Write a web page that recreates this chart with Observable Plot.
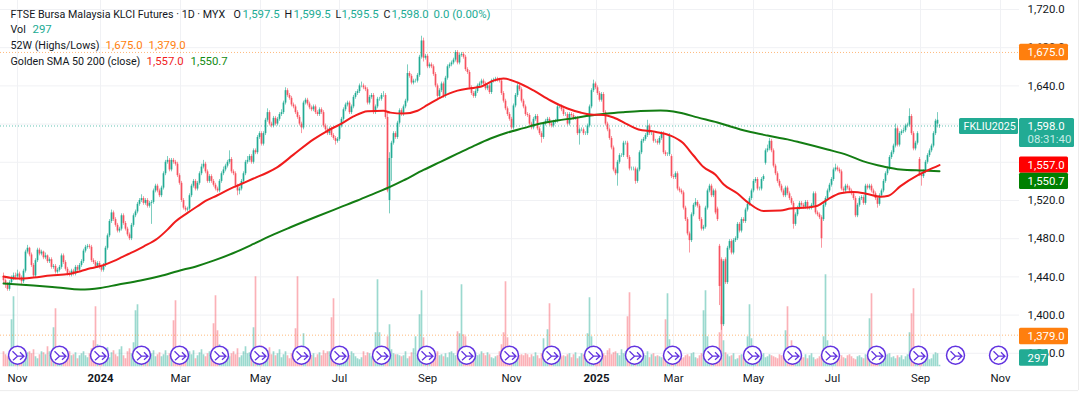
<!DOCTYPE html>
<html><head><meta charset="utf-8">
<script src="https://cdn.jsdelivr.net/npm/d3@7"></script>
<script src="https://cdn.jsdelivr.net/npm/@observablehq/plot@0.6"></script>
<style>html,body{margin:0;padding:0;background:#fff}svg{display:block}</style>
</head><body><div id="chart"></div>
<script>
const closes=[
1436,1432,1427,1434,1438,1441,1440,1443,1439,1435,
1446,1466,1470,1463,1452,1441,1457,1468,1464,1466,
1460,1462,1456,1458,1450,1451,1445,1447,1450,1462,
1455,1448,1443,1442,1446,1443,1450,1447,1452,1456,
1467,1471,1472,1471,1457,1455,1451,1454,1450,1447,
1452,1470,1483,1498,1507,1500,1494,1488,1490,1504,
1496,1490,1484,1480,1494,1504,1508,1516,1520,1522,
1517,1520,1514,1517,1518,1530,1535,1530,1525,1533,
1548,1560,1562,1552,1562,1560,1558,1546,1538,1520,
1512,1510,1511,1525,1535,1540,1532,1538,1548,1555,
1558,1550,1540,1545,1540,1536,1532,1530,1540,1548,
1552,1556,1560,1563,1550,1548,1535,1530,1532,1540,
1548,1560,1562,1566,1560,1572,1570,1586,1590,1579,
1590,1604,1612,1600,1598,1606,1600,1605,1610,1612,
1622,1635,1630,1627,1620,1618,1612,1607,1600,1596,
1622,1625,1621,1617,1615,1618,1612,1610,1615,1612,
1598,1594,1590,1595,1588,1585,1582,1584,1598,1605,
1615,1620,1622,1612,1618,1628,1632,1634,1640,1640,
1638,1636,1622,1628,1630,1612,1618,1626,1626,1630,
1630,1607,1530,1564,1580,1590,1586,1601,1614,1610,
1618,1624,1653,1650,1643,1645,1645,1651,1670,1687,
1669,1671,1660,1662,1660,1652,1640,1629,1635,1642,
1629,1648,1660,1662,1664,1667,1675,1664,1672,1673,
1670,1657,1654,1638,1632,1629,1634,1640,1642,1645,
1642,1637,1640,1633,1645,1646,1647,1646,1645,1632,
1624,1616,1610,1605,1596,1619,1630,1640,1636,1624,
1618,1610,1609,1600,1596,1605,1608,1595,1590,1586,
1600,1603,1605,1600,1598,1602,1603,1618,1618,1615,
1610,1610,1600,1610,1609,1606,1606,1590,1594,1594,
1590,1590,1598,1618,1635,1642,1638,1632,1625,1631,
1612,1600,1594,1585,1575,1552,1548,1560,1567,1567,
1580,1580,1565,1553,1553,1553,1540,1552,1570,1582,
1584,1588,1598,1590,1590,1582,1582,1580,1585,1590,
1570,1568,1568,1588,1545,1544,1548,1532,1530,1528,
1512,1500,1485,1478,1505,1515,1518,1514,1500,1490,
1492,1512,1530,1535,1525,1530,1507,1500,1430,1390,
1456,1434,1470,1477,1465,1478,1480,1495,1488,1500,
1498,1510,1516,1522,1530,1540,1542,1532,1532,1542,
1545,1572,1574,1582,1572,1556,1548,1540,1535,1530,
1525,1533,1527,1522,1517,1495,1505,1512,1517,1515,
1513,1518,1512,1512,1515,1527,1507,1505,1502,1480,
1515,1522,1530,1536,1542,1552,1554,1552,1550,1532,
1530,1535,1533,1530,1527,1522,1504,1515,1522,1523,
1517,1535,1533,1535,1530,1527,1522,1516,1525,1530,
1540,1548,1553,1565,1570,1577,1595,1578,1590,1592,
1593,1598,1599,1608,1590,1574,1580,1590,1547,1545,
1550,1560,1567,1572,1577,1590,1603,1604,1598];
const opens=[
1440,1436,1432,1427,1434,1438,1441,1440,1443,1439,
1435,1446,1466,1470,1463,1452,1441,1457,1468,1464,
1466,1460,1462,1456,1458,1450,1451,1445,1447,1450,
1462,1455,1448,1443,1442,1446,1443,1450,1447,1452,
1456,1467,1471,1472,1471,1457,1455,1451,1454,1450,
1447,1452,1470,1483,1498,1507,1500,1494,1488,1490,
1504,1496,1490,1484,1480,1494,1504,1508,1516,1520,
1522,1517,1520,1514,1517,1518,1530,1535,1530,1525,
1533,1548,1560,1562,1552,1562,1560,1558,1546,1538,
1520,1512,1510,1511,1525,1535,1540,1532,1538,1548,
1555,1558,1550,1540,1545,1540,1536,1532,1530,1540,
1548,1552,1556,1560,1563,1550,1548,1535,1530,1532,
1540,1548,1560,1562,1566,1560,1572,1570,1586,1590,
1579,1590,1604,1612,1600,1598,1606,1600,1605,1610,
1612,1622,1635,1630,1627,1620,1618,1612,1607,1600,
1596,1622,1625,1621,1617,1615,1618,1612,1610,1615,
1612,1598,1594,1590,1595,1588,1585,1582,1584,1598,
1605,1615,1620,1622,1612,1618,1628,1632,1634,1640,
1640,1638,1636,1622,1628,1630,1612,1618,1626,1626,
1630,1630,1607,1520,1564,1580,1590,1586,1601,1614,
1610,1618,1624,1653,1650,1643,1645,1645,1651,1670,
1687,1669,1671,1660,1662,1660,1652,1640,1629,1635,
1642,1629,1648,1660,1662,1664,1667,1675,1664,1672,
1673,1670,1657,1654,1638,1632,1629,1634,1640,1642,
1645,1642,1637,1640,1633,1645,1646,1647,1646,1645,
1632,1624,1616,1610,1605,1596,1619,1630,1640,1636,
1624,1618,1610,1609,1600,1596,1605,1608,1595,1590,
1586,1600,1603,1605,1600,1598,1602,1603,1618,1618,
1615,1610,1610,1600,1610,1609,1606,1606,1590,1594,
1594,1590,1590,1598,1618,1635,1642,1638,1632,1625,
1631,1612,1600,1594,1585,1575,1552,1548,1560,1567,
1567,1580,1580,1565,1553,1553,1553,1540,1552,1570,
1582,1584,1588,1598,1590,1590,1582,1582,1580,1585,
1590,1570,1568,1568,1566,1545,1544,1548,1532,1530,
1528,1512,1500,1485,1478,1505,1515,1518,1514,1500,
1490,1492,1512,1530,1535,1525,1530,1511,1472,1458,
1390,1458,1434,1470,1477,1465,1478,1480,1495,1488,
1500,1498,1510,1516,1522,1530,1540,1542,1532,1532,
1542,1559,1572,1574,1582,1572,1556,1548,1540,1535,
1530,1525,1533,1527,1522,1517,1495,1505,1512,1517,
1515,1513,1518,1512,1512,1515,1527,1507,1505,1502,
1500,1515,1522,1530,1536,1542,1552,1554,1552,1550,
1532,1530,1535,1533,1530,1527,1522,1504,1515,1522,
1523,1517,1535,1533,1535,1530,1527,1522,1516,1525,
1530,1540,1548,1553,1565,1570,1577,1595,1578,1590,
1592,1593,1598,1599,1608,1590,1574,1580,1563,1547,
1545,1550,1560,1567,1572,1577,1590,1600,1597.5];
const highs=[
1444,1438,1434,1436,1441,1444,1444,1447,1445,1441,
1448,1468,1473,1471,1465,1454,1459,1470,1470,1468,
1467,1465,1463,1460,1460,1453,1453,1449,1452,1464,
1464,1457,1450,1446,1448,1448,1452,1452,1454,1458,
1469,1473,1474,1474,1473,1459,1457,1456,1456,1452,
1454,1472,1485,1500,1510,1509,1502,1496,1492,1506,
1506,1498,1492,1486,1496,1506,1510,1518,1522,1526,
1524,1522,1522,1519,1520,1532,1537,1537,1532,1535,
1550,1562,1566,1564,1564,1564,1562,1560,1548,1540,
1522,1514,1513,1527,1537,1542,1542,1540,1550,1558,
1562,1560,1552,1547,1547,1542,1538,1534,1542,1550,
1555,1558,1562,1572,1565,1552,1550,1537,1534,1542,
1550,1562,1566,1568,1568,1574,1574,1588,1592,1592,
1592,1606,1616,1614,1602,1608,1608,1607,1612,1615,
1624,1638,1637,1632,1629,1622,1620,1614,1609,1602,
1624,1627,1627,1623,1619,1620,1620,1614,1617,1617,
1614,1600,1596,1597,1597,1590,1587,1586,1600,1607,
1617,1622,1624,1624,1620,1630,1634,1636,1642,1644,
1642,1640,1638,1630,1632,1632,1620,1628,1628,1632,
1634,1632,1612,1570,1582,1592,1592,1603,1616,1616,
1620,1626,1662,1655,1652,1647,1647,1653,1672,1692,
1690,1673,1673,1664,1664,1662,1654,1642,1637,1644,
1644,1650,1662,1664,1666,1669,1677,1677,1674,1675,
1675,1672,1659,1656,1640,1634,1636,1642,1644,1647,
1647,1644,1642,1642,1647,1648,1649,1649,1648,1647,
1634,1626,1618,1612,1607,1621,1632,1642,1642,1638,
1626,1620,1612,1611,1602,1607,1610,1610,1597,1592,
1602,1605,1607,1607,1602,1604,1605,1620,1620,1620,
1617,1612,1612,1612,1612,1611,1608,1608,1596,1596,
1596,1592,1600,1620,1637,1646,1644,1640,1634,1633,
1633,1614,1602,1596,1587,1577,1554,1562,1569,1569,
1582,1582,1582,1567,1555,1555,1555,1554,1572,1584,
1586,1590,1604,1600,1592,1592,1584,1584,1587,1592,
1592,1572,1570,1590,1568,1547,1550,1550,1534,1532,
1530,1514,1502,1487,1507,1517,1522,1520,1516,1502,
1494,1514,1532,1537,1537,1532,1532,1513,1474,1460,
1458,1460,1472,1479,1479,1480,1482,1497,1497,1502,
1502,1512,1518,1524,1532,1542,1544,1544,1534,1544,
1547,1574,1578,1585,1584,1574,1558,1550,1542,1537,
1532,1535,1535,1529,1524,1519,1507,1514,1519,1519,
1517,1520,1520,1514,1517,1529,1529,1509,1507,1504,
1517,1524,1532,1538,1544,1554,1558,1556,1554,1552,
1534,1537,1537,1535,1532,1529,1524,1517,1524,1525,
1525,1537,1537,1537,1537,1532,1529,1524,1527,1532,
1542,1550,1555,1567,1572,1579,1600,1597,1592,1594,
1596,1600,1601,1616,1610,1592,1582,1592,1565,1549,
1552,1562,1569,1574,1579,1592,1605,1612,1599.5];
const lows=[
1432,1428,1425,1425,1432,1436,1437,1438,1436,1432,
1433,1444,1464,1461,1450,1439,1439,1455,1462,1462,
1458,1458,1454,1454,1448,1448,1443,1443,1445,1448,
1453,1446,1441,1440,1440,1441,1441,1445,1445,1450,
1454,1465,1469,1469,1455,1453,1449,1449,1448,1445,
1445,1450,1468,1481,1496,1498,1492,1486,1486,1488,
1494,1488,1482,1478,1478,1492,1502,1506,1514,1518,
1515,1515,1512,1512,1495,1516,1528,1528,1523,1523,
1531,1546,1558,1550,1550,1558,1556,1544,1536,1518,
1510,1508,1508,1509,1523,1533,1530,1530,1536,1546,
1553,1548,1538,1538,1538,1534,1530,1528,1528,1538,
1546,1550,1554,1558,1548,1546,1533,1525,1526,1530,
1538,1546,1558,1560,1558,1558,1568,1568,1584,1577,
1577,1588,1602,1598,1596,1596,1598,1598,1603,1608,
1610,1620,1628,1625,1618,1616,1610,1605,1598,1590,
1594,1620,1619,1615,1613,1613,1610,1608,1608,1610,
1596,1592,1588,1588,1586,1583,1578,1580,1582,1596,
1603,1613,1618,1610,1610,1616,1626,1630,1632,1638,
1636,1634,1620,1620,1626,1610,1610,1616,1624,1624,
1628,1605,1528,1506,1540,1578,1584,1584,1599,1608,
1608,1616,1622,1648,1641,1641,1643,1643,1649,1668,
1665,1667,1658,1658,1658,1650,1638,1627,1627,1633,
1627,1627,1646,1658,1660,1662,1665,1662,1662,1670,
1668,1655,1652,1636,1630,1627,1627,1632,1638,1640,
1640,1635,1635,1631,1631,1643,1644,1644,1643,1630,
1622,1614,1608,1603,1594,1594,1617,1628,1634,1622,
1616,1608,1607,1598,1594,1594,1603,1593,1588,1580,
1584,1598,1601,1598,1596,1596,1600,1601,1616,1613,
1608,1608,1598,1598,1607,1604,1604,1588,1578,1592,
1588,1588,1588,1596,1616,1633,1636,1630,1623,1623,
1610,1598,1592,1583,1573,1550,1546,1535,1558,1565,
1565,1578,1563,1551,1551,1551,1537,1538,1550,1568,
1580,1582,1586,1588,1588,1580,1580,1578,1578,1583,
1568,1566,1566,1566,1543,1542,1542,1530,1528,1526,
1510,1498,1483,1465,1476,1503,1513,1512,1498,1488,
1488,1490,1510,1528,1523,1523,1505,1498,1410,1384,
1388,1432,1432,1468,1463,1463,1476,1478,1486,1486,
1496,1496,1508,1514,1520,1528,1538,1530,1530,1530,
1540,1557,1570,1572,1570,1554,1546,1538,1533,1528,
1523,1523,1525,1520,1515,1490,1493,1503,1510,1513,
1511,1511,1510,1510,1510,1513,1505,1503,1500,1470,
1498,1513,1520,1528,1534,1540,1550,1550,1548,1530,
1528,1528,1531,1528,1525,1520,1502,1502,1513,1520,
1515,1515,1531,1531,1528,1525,1520,1512,1514,1523,
1528,1538,1546,1551,1563,1568,1575,1576,1576,1588,
1590,1591,1596,1597,1588,1572,1572,1578,1545,1535,
1543,1548,1558,1565,1570,1575,1588,1596,1595.5];
const volumes=[
30,24,20,26,94,140,26,22,32,24,
26,20,28,30,26,34,20,16,24,30,
28,24,40,30,24,78,116,24,18,22,
20,16,26,30,22,24,28,16,22,26,
30,22,18,26,36,52,120,44,36,30,
26,24,38,18,28,32,24,20,34,40,
22,16,30,36,26,48,112,124,34,26,
22,24,30,18,26,32,20,24,28,20,
24,32,22,26,30,92,132,34,28,38,
22,18,26,30,24,32,16,22,28,34,
24,20,26,30,18,86,142,72,44,30,
28,22,34,20,26,30,24,36,18,22,
30,40,26,28,22,78,180,36,24,42,
28,20,32,38,24,30,22,26,34,18,
24,30,22,16,26,28,76,180,24,28,
66,28,20,24,22,26,18,24,28,22,
32,26,30,30,98,136,28,32,24,18,
20,24,28,22,30,26,20,16,14,18,
30,22,28,26,20,34,68,174,68,28,
30,24,60,84,34,26,24,24,22,20,
22,30,16,20,28,36,60,24,104,152,
58,26,28,20,18,24,26,30,22,24,
20,26,18,28,30,26,22,70,66,164,
64,60,24,18,22,26,28,22,24,30,
26,22,28,24,18,16,20,22,30,44,
68,170,58,26,30,18,22,20,22,24,
22,26,24,18,24,20,28,22,16,26,
56,34,74,126,28,20,16,18,18,20,
22,20,24,26,18,24,28,16,20,26,
24,22,66,138,60,30,22,20,24,28,
26,22,32,36,24,28,30,26,22,34,
26,30,100,148,26,22,24,28,18,20,
26,22,30,18,24,26,20,22,20,18,
22,94,146,54,30,20,16,22,14,16,
18,22,24,20,26,28,18,16,22,26,
112,152,60,24,30,20,18,22,68,100,
52,28,24,20,22,26,14,16,22,24,
20,18,60,124,56,24,22,26,14,22,
26,18,20,24,22,20,18,16,24,22,
20,72,120,20,52,18,22,16,14,20,
18,24,16,22,26,18,14,16,20,24,
60,184,52,24,30,18,16,20,14,22,
18,16,22,24,20,16,14,20,22,18,
16,24,22,96,146,22,24,16,18,20,
14,22,24,26,18,20,16,22,18,22,
14,20,24,68,106,156,24,20,14,18,
22,16,20,14,16,24,28,26,3];
const barIndex=closes.map((_,i)=>i);

const sma50Bars=[0,7,15,23.5,32.5,38.5,43.5,49.5,55,59.5,62.5,70,77,82,86,92,97,101,107,113.5,118.5,125,132,137,145,155,162,168.5,175,182,190,193.5,200,207,212,218.5,227,232.5,238.5,245,250,257,265,273.5,282,288.5,293.5,300,305,312,317.5,325,333.5,339.5,345,350,356,360,367,372.5,380,388.5,393.5,402,407,412,418.5,425,432,438.5,442.5,448.5,457,462,468];
const sma50Values=[1440.4,1438.3,1439.4,1441.5,1443,1446,1449,1452,1456.5,1461,1464,1471.8,1480.2,1489.5,1498,1507,1514,1519.5,1525.5,1532.5,1537,1543,1549.3,1555,1568,1584,1593,1600,1608,1613.5,1614,1612,1611,1614,1620,1627.8,1635,1637.3,1639,1645.5,1647.7,1643.5,1635.2,1624.7,1616.3,1612.1,1610,1609.5,1606.9,1599.6,1594.3,1592.2,1588,1580.7,1567.1,1555,1547,1537,1527.3,1517.5,1509,1509.5,1511.5,1512.7,1514.5,1521,1527.5,1529,1526.8,1524,1525,1535,1546.2,1551.4,1557];
const sma200Bars=[0,15,27,38.5,48.5,57,68.5,78.5,87,97,105,115,125,133.5,143.5,157,168.5,177,185,193.5,200,210,218.5,227,235,243.5,252,260,268.5,277,285,293.5,302,310,318.5,328.5,335,340,347,357,362,372,382,392,398.5,412,422,430,440,448.5,460,468];
const sma200Values=[1433.1,1431,1428.9,1426.8,1428.5,1431.8,1436.2,1441,1446,1451.5,1457,1465,1474.5,1483,1492,1503.5,1513,1520,1527,1534.5,1541,1552,1560.5,1569,1577,1584.9,1591.2,1595.8,1600.6,1603.8,1606.2,1609,1611.1,1612.5,1613.7,1614.2,1613.2,1611,1607,1601.7,1598.5,1592.5,1588,1584,1580.7,1573.4,1567.5,1561,1555.6,1552.5,1551.4,1550.7];

const eventBars=[7,28,48,69,88,108,128,149,168,189,211.5,231.5,253,274,295,315.5,334.5,354.5,374.5,394.5,413.5,436.5,457.5,476,497.5];
const priceTicks=[1720,1680,1640,1600,1560,1520,1480,1440,1400,1360];
const monthTickBars=[7,88.5,128.5,168,212,254,335,375,414.5,458.5,498.5];
const monthTickLabels=["Nov","Mar","May","Jul","Sep","Nov","Mar","May","Jul","Sep","Nov"];
const yearTickBars=[48.5,296.5];
const yearTickLabels=["2024","2025"];
const high52=1675, low52=1379, last=1598;

const UP="#22ab94", DOWN="#f7525f", INK="#131722";
const FONT="Roboto,sans-serif";
const FS=11.4, FSN=10.7;
const isUp=i=>closes[i]>=opens[i];
const tags=[
 {t:"1,675.0",f:"#ff7f0e",c:"#fff",p:1675,x2:532.5},
 {t:"1,557.0",f:"#ff0000",c:"#fff",p:1557,x2:532.5},
 {t:"1,550.7",f:"#008000",c:"#fff",p:1540,x2:532.5},
 {t:"1,379.0",f:"#ff7f0e",c:"#fff",p:1377.6,x2:532.5},
 {t:"297",f:"#22ab94",c:"#fff",p:1355,x2:522.5}
];
const legendNames=[
 {t:"FTSE Bursa Malaysia KLCI Futures · 1D · MYX",x:10,y:14},
 {t:"O",x:233,y:14},{t:"H",x:284,y:14},{t:"L",x:335,y:14},{t:"C",x:383,y:14},
 {t:"Vol",x:10,y:29},{t:"52W (Highs/Lows)",x:10,y:45},{t:"Golden SMA 50 200 (close)",x:10,y:61}
];
const legendValues=[
 {t:"1,597.5",x:242,y:14,c:UP},{t:"1,599.5",x:293,y:14,c:UP},{t:"1,595.5",x:341,y:14,c:UP},
 {t:"1,598.0",x:391,y:14,c:UP},{t:"0.0 (0.00%)",x:433,y:14,c:UP},{t:"297",x:32,y:29,c:UP},
 {t:"1,675.0",x:105,y:45,c:"#ff7f0e"},{t:"1,379.0",x:148,y:45,c:"#ff7f0e"},
 {t:"1,557.0",x:146,y:61,c:"#f01c1c"},{t:"1,550.7",x:190,y:61,c:"#128a12"}
];
const splitIcon={draw(ctx){
  ctx.moveTo(-5,-4);ctx.lineTo(0,1);ctx.lineTo(6,1);
  ctx.moveTo(-4.5,5);ctx.lineTo(0,1);
  ctx.moveTo(2.5,-3);ctx.lineTo(6.5,1);ctx.lineTo(2.5,4.5);
}};
const volBase=1345.9, volK=0.5235;
const lx=d=>(d.x-3)/2, ly=d=>1729.4-1.047*d.y;

const chart=Plot.plot({
  width:1080,height:395,
  marginTop:0,marginLeft:0,marginRight:61,marginBottom:25,
  style:{fontFamily:FONT,fontSize:FS+"px",color:INK,background:"#fff",overflow:"visible"},
  x:{type:"linear",domain:[-1.5,508],axis:null},
  y:{type:"linear",domain:[1342,1729.4],axis:null},
  marks:[
    Plot.gridY(priceTicks,{y:d=>d,stroke:"#f0f1f4",strokeOpacity:1}),
    Plot.gridX(monthTickBars.concat(yearTickBars),{x:d=>d,stroke:"#f0f1f4",strokeOpacity:1}),
    Plot.ruleY([1320.9],{x1:-1.5,x2:537.5,stroke:"#ececec"}),
    Plot.ruleX([537.5],{y1:1320.9,y2:1729.4,stroke:"#ececec"}),
    Plot.ruleX(barIndex,{x:d=>d,y1:volBase,y2:d=>volBase+volumes[d]*volK,stroke:d=>isUp(d)?UP:DOWN,strokeOpacity:0.45,strokeWidth:1.7}),
    Plot.ruleY([high52,low52],{y:d=>d,x1:-1.5,x2:508,stroke:"#ff7f0e",strokeOpacity:.55,strokeDasharray:"1,2"}),
    Plot.ruleY([last],{y:d=>d,x1:-1.5,x2:478,stroke:UP,strokeOpacity:.7,strokeDasharray:"1,2"}),
    Plot.ruleX(barIndex,{x:d=>d,y1:d=>lows[d],y2:d=>highs[d],stroke:d=>isUp(d)?UP:DOWN,strokeWidth:.9,strokeOpacity:.65}),
    Plot.ruleX(barIndex,{x:d=>d,y1:d=>opens[d],y2:d=>closes[d],stroke:d=>isUp(d)?UP:DOWN,strokeWidth:1.7}),
    Plot.line(sma200Bars,{x:d=>d,y:(d,i)=>sma200Values[i],stroke:"#137d13",strokeWidth:2,curve:"monotone-x"}),
    Plot.line(sma50Bars,{x:d=>d,y:(d,i)=>sma50Values[i],stroke:"#f01c1c",strokeWidth:2,curve:"monotone-x"}),
    Plot.dot(eventBars,{x:d=>d,y:1358,r:9,fill:"#fff",stroke:"#6233e0",strokeWidth:1.5}),
    Plot.dot(eventBars,{x:d=>d,y:1358,r:5,symbol:splitIcon,fill:"none",stroke:"#6233e0",strokeWidth:1.3}),
    Plot.axisY(priceTicks,{anchor:"right",tickSize:0,tickPadding:8,tickFormat:d3.format(",.1f"),fontSize:FS,fill:INK,label:null}),
    Plot.axisX(monthTickBars,{anchor:"bottom",tickSize:0,tickPadding:3,tickFormat:d=>monthTickLabels[monthTickBars.indexOf(d)],fill:INK,label:null,fontSize:FS}),
    Plot.axisX(yearTickBars,{anchor:"bottom",tickSize:0,tickPadding:3,tickFormat:d=>yearTickLabels[yearTickBars.indexOf(d)],fill:INK,label:null,fontSize:FS,fontWeight:"bold"}),
    Plot.rect(tags,{x1:508,x2:d=>d.x2,y1:d=>d.p-8.6,y2:d=>d.p+8.6,fill:d=>d.f,rx:1.5}),
    Plot.text(tags,{x:512,y:d=>d.p,text:d=>d.t,fill:d=>d.c,textAnchor:"start",fontSize:FS}),
    Plot.rect([0],{x1:478,x2:507.5,y1:1605.8,y2:1589,fill:UP,rx:1.5}),
    Plot.text(["FKLIU2025"],{x:480,y:1597.8,text:d=>d,fill:"#fff",textAnchor:"start",fontSize:FSN}),
    Plot.rect([0],{x1:508,x2:535.5,y1:1605.8,y2:1575.5,fill:UP,rx:1.5}),
    Plot.text(["1,598.0"],{x:512,y:1597.5,text:d=>d,fill:"#fff",textAnchor:"start",fontSize:FS}),
    Plot.text(["08:31:40"],{x:512,y:1584,text:d=>d,fill:"#c6ece6",textAnchor:"start",fontSize:FS}),
    Plot.text(legendNames,{text:d=>d.t,fill:INK,textAnchor:"start",fontSize:FSN,x:lx,y:ly}),
    Plot.text(legendValues,{text:d=>d.t,fill:d=>d.c,textAnchor:"start",fontSize:FS,x:lx,y:ly})
  ]
});
document.getElementById("chart").appendChild(chart);
</script></body></html>
